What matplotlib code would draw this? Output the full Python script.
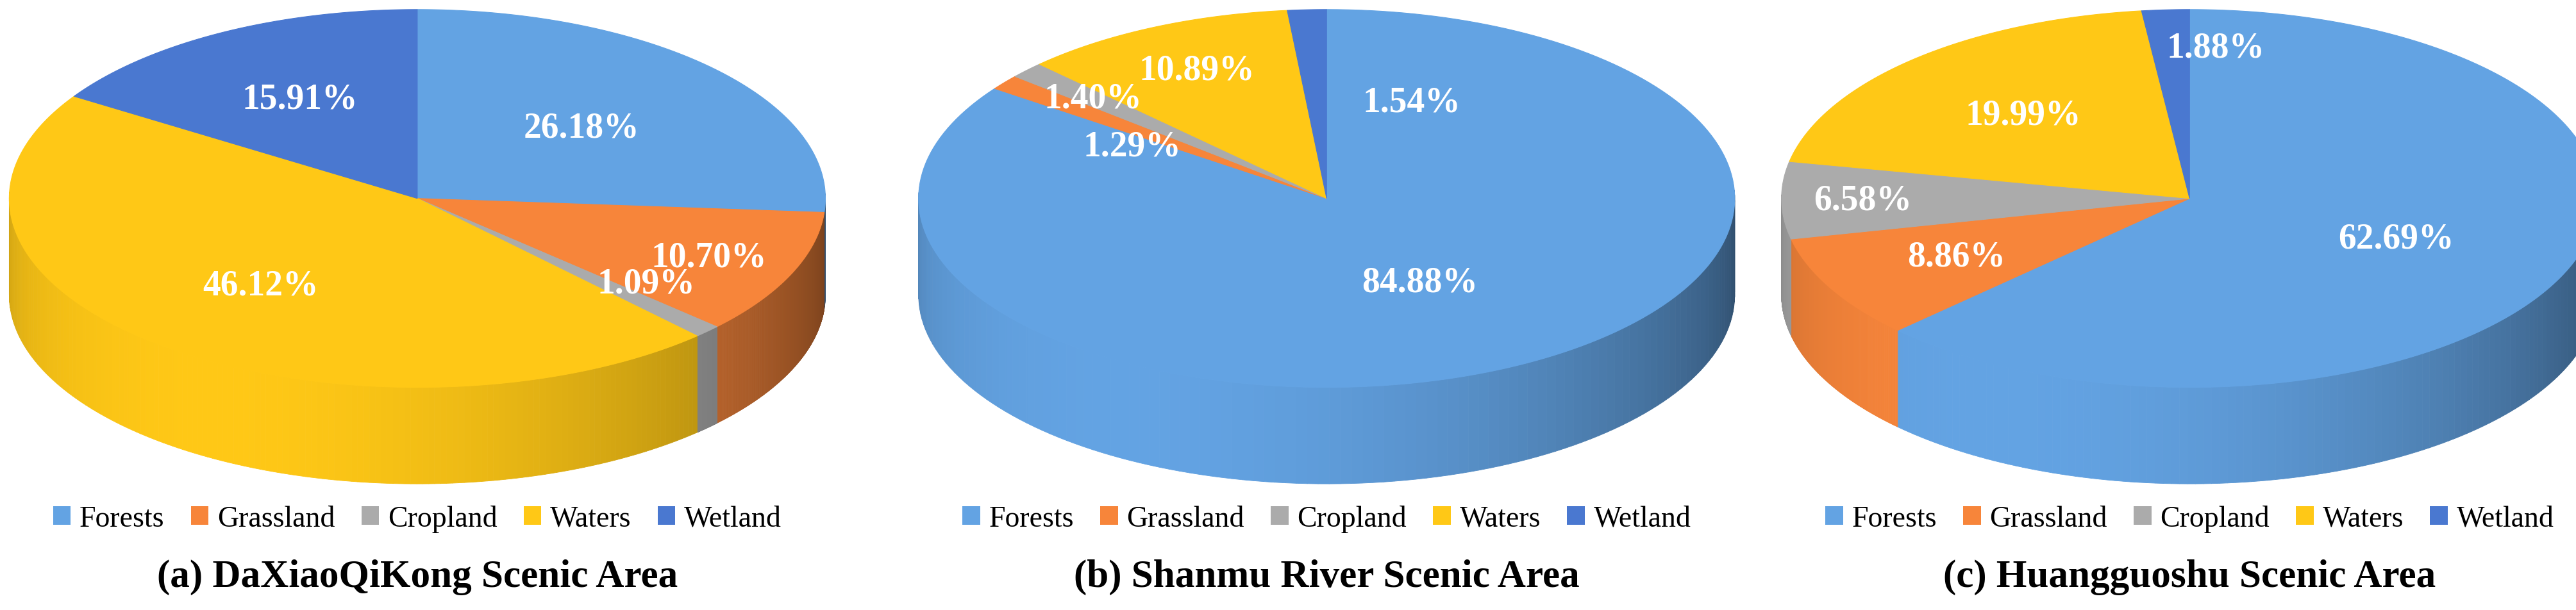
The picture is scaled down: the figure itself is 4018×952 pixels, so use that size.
import matplotlib.pyplot as plt
import numpy as np
from matplotlib.patches import Polygon, Patch
from matplotlib.colors import to_rgb

categories = ["Forests", "Grassland", "Cropland", "Waters", "Wetland"]
colors = ["#63a3e3", "#f7853a", "#ababab", "#ffc816", "#4a78d0"]

share_a = [26.18, 10.70, 1.09, 46.12, 15.91]
share_b = [84.88, 1.29, 1.40, 10.89, 1.54]
share_c = [62.69, 8.86, 6.58, 19.99, 1.88]
titles = ["(a) DaXiaoQiKong Scenic Area", "(b) Shanmu River Scenic Area",
          "(c) Huangguoshu Scenic Area"]
# label offsets (radius fraction, angle shift in deg) per slice
label_pos = [
    [(0.55, 0), (0.78, 0), (0.72, 6), (0.6, 0), (0.6, 0)],
    [(0.5, 0), (0.55, 8), (0.78, 0), (0.75, 0), (0.55, -25)],
    [(0.55, 0), (0.65, 0), (0.8, 0), (0.6, 0), (0.8, -8)],
]

K = 0.47      # vertical squash of top ellipse
DEPTH = 0.24  # thickness of the cake


def shade(c, f):
    r, g, b = to_rgb(c)
    return (r * f, g * f, b * f)


def pie3d(ax, shares, lpos):
    fr = np.array(shares) / sum(shares)
    starts = 90 - 360 * np.concatenate([[0], np.cumsum(fr)[:-1]])
    ends = starts - 360 * fr
    # side walls
    for s, e, c in zip(starts, ends, colors):
        ts = np.linspace(np.radians(s), np.radians(e), 200)
        for t0, t1 in zip(ts[:-1], ts[1:]):
            if np.sin(t0) > 0.02 and np.sin(t1) > 0.02:
                continue
            tm = 0.5 * (t0 + t1)
            f = 0.3 + 0.7 * (0.5 + 0.5 * np.cos(tm - np.radians(240)))
            pts = [(np.cos(t0), K * np.sin(t0)), (np.cos(t1), K * np.sin(t1)),
                   (np.cos(t1), K * np.sin(t1) - DEPTH), (np.cos(t0), K * np.sin(t0) - DEPTH)]
            ax.add_patch(Polygon(pts, closed=True, fc=shade(c, f), ec=shade(c, f), lw=0.6))
    # top
    for s, e, c in zip(starts, ends, colors):
        ts = np.radians(np.linspace(s, e, 200))
        pts = [(0, 0)] + [(np.cos(t), K * np.sin(t)) for t in ts]
        ax.add_patch(Polygon(pts, closed=True, fc=c, ec=c, lw=0.8))
    for s, e, v, (rf, da) in zip(starts, ends, shares, lpos):
        t = np.radians(0.5 * (s + e) + da)
        ax.text(rf * np.cos(t), rf * K * np.sin(t), f"{v:.2f}%", color="white",
                fontsize=40, fontweight="bold", family="Liberation Serif",
                ha="center", va="center")
    ax.set_xlim(-1.01, 1.01)
    ax.set_ylim(-K - DEPTH - 0.01, K + 0.01)
    ax.axis("off")


fig = plt.figure(figsize=(40.18, 9.53), dpi=100)
lefts = [0.002, 0.355, 0.69]
width = 0.32
for i, (sh, ti) in enumerate(zip([share_a, share_b, share_c], titles)):
    ax = fig.add_axes([lefts[i], 0.2, width, 0.79])
    pie3d(ax, sh, label_pos[i])
    handles = [Patch(fc=c) for c in colors]
    fig.legend(handles, categories, loc="center", bbox_to_anchor=(lefts[i] + width / 2, 0.15),
               ncol=5, frameon=False, prop={"family": "Liberation Serif", "size": 33},
               handlelength=0.6, handleheight=0.6, columnspacing=0.9, handletextpad=0.3)
    fig.text(lefts[i] + width / 2, 0.055, ti, ha="center", va="center", fontsize=44,
             fontweight="bold", family="Liberation Serif")

fig.savefig("out.png", dpi=100)
